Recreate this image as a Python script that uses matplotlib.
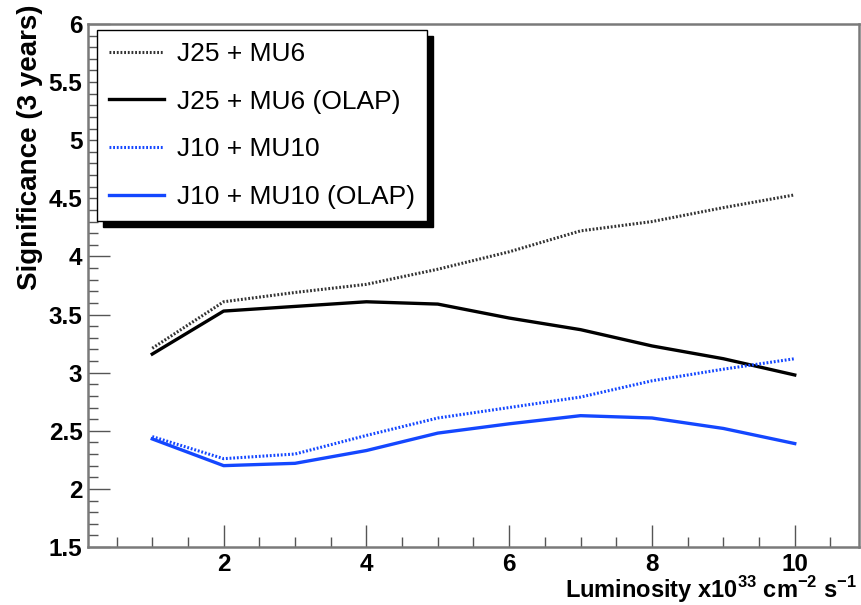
import matplotlib
matplotlib.use("Agg")
import matplotlib.pyplot as plt
from matplotlib.patches import Rectangle
from matplotlib.ticker import MultipleLocator, FuncFormatter

plt.rcParams['font.family'] = ['Liberation Sans', 'DejaVu Sans']
plt.rcParams['mathtext.fontset'] = 'custom'
plt.rcParams['mathtext.rm'] = 'Liberation Sans:bold'
plt.rcParams['mathtext.bf'] = 'Liberation Sans:bold'
plt.rcParams['xtick.labelsize'] = 17.5
plt.rcParams['ytick.labelsize'] = 17.5

luminosity = [1, 2, 3, 4, 5, 6, 7, 8, 9, 10]
j25_mu6 = [3.21, 3.61, 3.69, 3.76, 3.89, 4.04, 4.22, 4.30, 4.42, 4.53]
j25_mu6_olap = [3.16, 3.53, 3.57, 3.61, 3.59, 3.47, 3.37, 3.23, 3.12, 2.98]
j10_mu10 = [2.45, 2.26, 2.30, 2.46, 2.61, 2.70, 2.79, 2.93, 3.03, 3.12]
j10_mu10_olap = [2.43, 2.20, 2.22, 2.33, 2.48, 2.56, 2.63, 2.61, 2.52, 2.39]
labels = ["J25 + MU6", "J25 + MU6 (OLAP)", "J10 + MU10", "J10 + MU10 (OLAP)"]

blue = '#1447ff'
dot = (0, (0.6, 0.6))

fig = plt.figure(figsize=(8.62, 6.05), dpi=100)
ax = fig.add_axes([88/862, 58/605, (859-88)/862, (547-24)/605])

ax.plot(luminosity, j25_mu6, color='#333333', lw=2.2, ls=dot, label=labels[0])
ax.plot(luminosity, j25_mu6_olap, color='black', lw=2.4, label=labels[1])
ax.plot(luminosity, j10_mu10, color=blue, lw=2.2, ls=dot, label=labels[2])
ax.plot(luminosity, j10_mu10_olap, color=blue, lw=2.4, label=labels[3])

ax.set_xlim(0.1, 10.9)
ax.set_ylim(1.5, 6.0)
ax.xaxis.set_major_locator(MultipleLocator(2))
ax.xaxis.set_minor_locator(MultipleLocator(0.5))
ax.yaxis.set_major_locator(MultipleLocator(0.5))
ax.yaxis.set_minor_locator(MultipleLocator(0.1))
ax.yaxis.set_major_formatter(FuncFormatter(lambda v, p: '%g' % v))

for s in ax.spines.values():
    s.set_color('#7a7a7a')
    s.set_linewidth(1.8)

ax.tick_params(which='both', direction='in', color='#555555', width=1.0,
               top=False, right=False)
ax.tick_params(which='major', length=16)
ax.tick_params(axis='y', which='major', pad=4)
ax.tick_params(axis='x', which='major', pad=4)
ax.tick_params(which='minor', length=7)
for lab in ax.get_xticklabels() + ax.get_yticklabels():
    lab.set_fontweight('bold')

fig.text(30/862, 1 - 4/605, "Significance (3 years)", rotation=90,
         ha='center', va='top', fontsize=20, fontweight='bold')
fig.text(857/862, 7/605, r"Luminosity x10$^{33}$ cm$^{-2}$ s$^{-1}$",
         ha='right', va='baseline', fontsize=17, fontweight='bold')

leg = ax.legend(loc='upper left', bbox_to_anchor=(97/862, (605-30)/605),
                bbox_transform=fig.transFigure, fontsize=19, frameon=True,
                fancybox=False, edgecolor='black', framealpha=1,
                borderpad=0.45, labelspacing=0.9, handlelength=2.1,
                handletextpad=0.5, borderaxespad=0)
leg.get_frame().set_linewidth(1.0)
leg.set_zorder(6)

fig.canvas.draw()
bb = leg.get_window_extent()
shadow = Rectangle((bb.x0 + 6, bb.y0 - 6), bb.width, bb.height, transform=None,
                   facecolor='black', edgecolor='black', zorder=5.5, clip_on=False)
ax.add_patch(shadow)

fig.savefig("out.png", dpi=100)
